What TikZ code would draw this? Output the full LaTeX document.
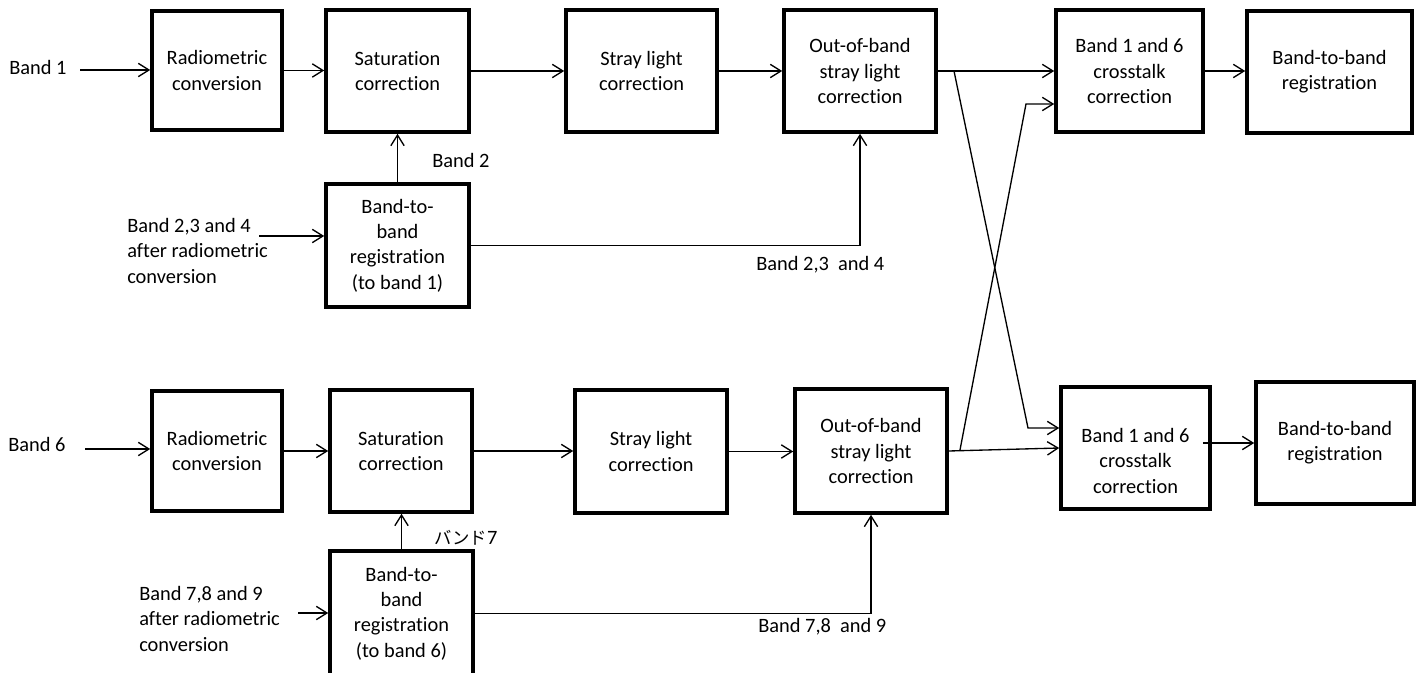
\documentclass[tikz,border=0pt]{standalone}
\usepackage{fontspec}
\setmainfont{Carlito}[Ligatures=NoCommon]
\newfontfamily\jpfont{Noto Sans CJK JP}
\usetikzlibrary{arrows.meta,calc}

\newcommand\dgfont{\fontsize{15.3pt}{19pt}\selectfont}
% \blk{name}{x1}{y1}{x2}{y2}{text}: a framed processing block between two corners
\newcommand\blk[6]{%
  \node[blk, minimum width={(#4-#2)*0.75pt}, minimum height={(#5-#3)*0.75pt}]
    (#1) at ({(#2+#4)/2},{(#3+#5)/2}) {#6};}

\begin{document}
\begin{tikzpicture}[x=0.75pt, y=-0.75pt,
  blk/.style={draw, line width=2.7pt, align=center, inner sep=0pt, font=\dgfont},
  lbl/.style={inner sep=0pt, font=\dgfont},
  wire/.style={line width=1pt},
  flow/.style={wire, -{Straight Barb[length=8pt,width=10pt]}}]

\useasboundingbox (0,0) rectangle (1422,673);
\clip (0,0) rectangle (1422,673);

% ---------- Band 1 chain ----------
\blk{rc1}{152}{11}{282}{130}{Radiometric\\conversion}
\blk{sc1}{326}{10}{469}{132}{Saturation\\correction}
\blk{sl1}{566}{10}{717}{132}{Stray light\\correction}
\blk{ob1}{784}{10}{936}{132}{Out-of-band\\stray light\\correction}
\blk{ct1}{1056}{10}{1203}{132}{Band 1 and 6\\crosstalk\\correction}
\blk{br1}{1247}{11}{1412}{133}{Band-to-band\\registration}
\blk{bb1}{326}{184}{469}{307}{Band-to-\\band\\registration\\(to band 1)}

\node[lbl, anchor=base west] (t1) at (9,75) {Band 1};
\node[lbl, anchor=base west] (t2) at (432,168) {Band 2};
\node[lbl, anchor=north west, align=left] (t234) at (127,218)
  {Band 2,3 and 4\\after radiometric\\conversion};
\node[lbl, anchor=base west] (t234b) at (756,271) {Band 2,3\ \ and 4};

\coordinate (in1) at (80,70);
\coordinate (in234) at (259,236);
\draw[flow] (in1) -- (in1 -| rc1.west);
\draw[flow] (rc1.east) -- (rc1.east -| sc1.west);
\draw[flow] (sc1.east) -- (sc1.east -| sl1.west);
\draw[flow] (sl1.east) -- (sl1.east -| ob1.west);
\draw[flow] (ob1.east) -- (ob1.east -| ct1.west);
\draw[flow] (ct1.east) -- (ct1.east -| br1.west);
\draw[flow] (bb1.north) -- (bb1.north |- sc1.south);
\draw[flow] (in234) -- (in234 -| bb1.west);
\draw[flow] (bb1.east) -| (ob1.south);

% ---------- Band 6 chain ----------
\blk{rc6}{152}{391}{282}{511}{Radiometric\\conversion}
\blk{sc6}{330}{390}{472}{512}{Saturation\\correction}
\blk{sl6}{575}{390}{727}{513}{Stray light\\correction}
\blk{ob6}{795}{389}{947}{513}{Out-of-band\\stray light\\correction}
% the strut on the first line sets this block's text a little low
\blk{ct6}{1061}{387}{1210}{509}{\rule{0pt}{30pt}Band 1 and 6\\crosstalk\\correction}
\blk{br6}{1256}{382}{1414}{504}{Band-to-band\\registration}
\blk{bb6}{330}{551}{473}{676}{Band-to-\\band\\registration\\(to band 6)}

\node[lbl, anchor=base west] (t6) at (8,452) {Band 6};
\node[lbl, anchor=base west] (t7) at (434,545) {{\jpfont\fontsize{13pt}{15pt}\selectfont バンド}7};
\node[lbl, anchor=north west, align=left] (t789) at (139,586)
  {Band 7,8 and 9\\after radiometric\\conversion};
\node[lbl, anchor=base west] (t789b) at (758,633) {Band 7,8\ \ and 9};

\coordinate (in6) at (85,449);
\coordinate (in789) at (298,613);
\draw[flow] (in6) -- (in6 -| rc6.west);
\draw[flow] (rc6.east) -- (rc6.east -| sc6.west);
\draw[flow] (sc6.east) -- (sc6.east -| sl6.west);
\draw[flow] (sl6.east) -- (sl6.east -| ob6.west);
\draw[flow] (ob6.east) -- (ct6.west);
\draw[flow] ($(ct6.east |- br6.west)+(-9,0)$) -- (br6.west);
\draw[flow] (bb6.north) -- (bb6.north |- sc6.south);
\draw[flow] (in789) -- (in789 -| bb6.west);
\draw[flow] (bb6.east) -| (ob6.south);

% ---------- crossover between the two chains ----------
\coordinate (j1) at (954,71);
\coordinate (k1) at (1028,428);
\coordinate (j6) at (960,450);
\coordinate (k6) at (1026,104);
\draw[flow] (j1) -- (k1) -- (k1 -| ct6.west);
\draw[flow] (j6) -- (k6) -- (k6 -| ct1.west);

\end{tikzpicture}
\end{document}
